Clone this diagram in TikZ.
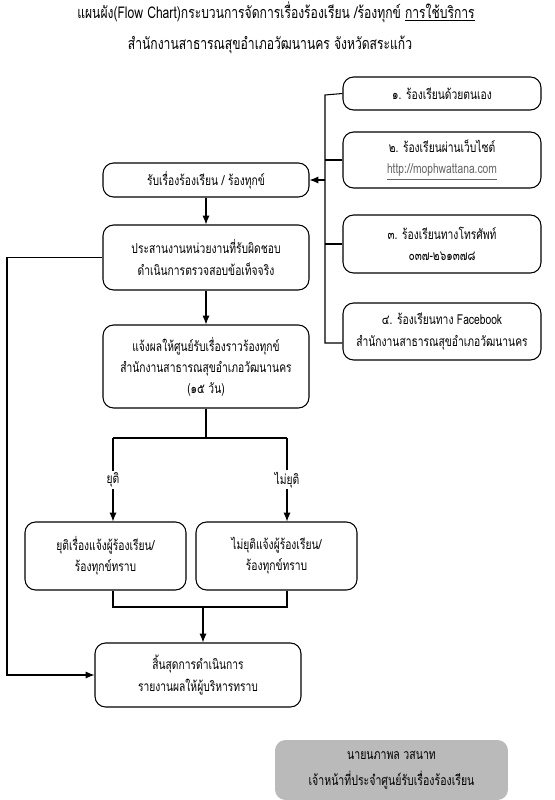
\documentclass[tikz,border=0pt]{standalone}
\usepackage{fontspec}
\setmainfont[Script=Thai,FakeStretch=0.75]{Loma}
\usetikzlibrary{arrows.meta}

\begin{document}
\begin{tikzpicture}[x=0.02cm,y=-0.02cm,
    line width=.6pt,
    box/.style={draw, rounded corners=6pt, align=center, inner sep=2pt,
      font=\fontsize{7.8}{12}\selectfont},
    arr/.style={-{Latex[length=5pt,width=4pt]}},
    tag/.style={fill=white, inner sep=1pt, font=\fontsize{7.8}{10}\selectfont}]
  \useasboundingbox (0,0) rectangle (554,800);

  % Title
  \node[font=\fontsize{9.2}{12}\selectfont] (title) at (276,12)
    {แผนผัง(Flow Chart)กระบวนการจัดการเรื่องร้องเรียน /ร้องทุกข์ \underline{การใช้บริการ}};
  \node[font=\fontsize{9.2}{12}\selectfont] (office) at (270,45)
    {สำนักงานสาธารณสุขอำเภอวัฒนานคร จังหวัดสระแก้ว};

  % Channels (right column)
  \node[box, minimum width=3.96cm, minimum height=.66cm] (ch1) at (442,93.5)
    {๑. ร้องเรียนด้วยตนเอง};
  \node[box, minimum width=3.96cm, minimum height=1.12cm] (ch2) at (442,160)
    {๒. ร้องเรียนผ่านเว็บไซต์\\ {\color{black!60}\underline{http://mophwattana.com}}};
  \node[box, minimum width=3.96cm, minimum height=1.16cm] (ch3) at (442,244)
    {๓. ร้องเรียนทางโทรศัพท์\\ ๐๓๗-๒๖๑๓๗๘};
  \node[box, minimum width=3.96cm, minimum height=1.14cm] (ch4) at (442,331.5)
    {๔. ร้องเรียนทาง Facebook\\ สำนักงานสาธารณสุขอำเภอวัฒนานคร};

  % Main steps
  \node[box, minimum width=4.12cm, minimum height=.68cm] (recv) at (206,180)
    {รับเรื่องร้องเรียน / ร้องทุกข์};
  \node[box, minimum width=4.12cm, minimum height=1.3cm] (check) at (206,257.5)
    {ประสานงานหน่วยงานที่รับผิดชอบ\\ ดำเนินการตรวจสอบข้อเท็จจริง};
  \node[box, minimum width=4.12cm, minimum height=1.66cm] (notify) at (206,366.5)
    {แจ้งผลให้ศูนย์รับเรื่องราวร้องทุกข์\\ สำนักงานสาธารณสุขอำเภอวัฒนานคร\\ (๑๕ วัน)};
  \node[box, minimum width=3.22cm, minimum height=1.36cm] (done) at (105.5,556)
    {ยุติเรื่องแจ้งผู้ร้องเรียน/\\ ร้องทุกข์ทราบ};
  \node[box, minimum width=3.22cm, minimum height=1.36cm] (open) at (276.5,556)
    {ไม่ยุติแจ้งผู้ร้องเรียน/\\ ร้องทุกข์ทราบ};
  \node[box, minimum width=4.12cm, minimum height=1.28cm] (finish) at (198,675)
    {สิ้นสุดการดำเนินการ\\ รายงานผลให้ผู้บริหารทราบ};

  % Signature
  \node[fill=black!27, rounded corners=6pt, minimum width=4.66cm, minimum height=1.2cm,
    align=center, font=\fontsize{8}{15}\selectfont] (sign) at (391.5,770)
    {นายนภาพล วสนาท\\ เจ้าหน้าที่ประจำศูนย์รับเรื่องร้องเรียน};

  % Channel bus
  \coordinate (bustop) at (325,95);
  \coordinate (busend) at (325,343);
  \draw (ch1.west) -- (bustop) -- (busend) -- (busend -| ch4.west);
  \draw (ch2.west) -- (ch2.west -| bustop);
  \draw (ch3.west) -- (ch3.west -| bustop);
  \draw[arr] (recv.east -| bustop) -- (recv.east);

  \draw[arr] (recv) -- (check);
  \draw[arr] (check) -- (notify);

  % Split into two results
  \coordinate (split) at (206,438);
  \coordinate (splitl) at (113,438);
  \coordinate (splitr) at (287,438);
  \draw (notify.south) -- (split);
  \draw (splitl) -- (splitr);
  \draw[arr] (splitl) -- node[tag] {ยุติ} (splitl |- done.north);
  \draw[arr] (splitr) -- node[tag] {ไม่ยุติ} (splitr |- open.north);

  % Join
  \coordinate (joinl) at (113,607);
  \coordinate (joinr) at (287,607);
  \coordinate (joinm) at (203,607);
  \draw (joinl |- done.south) -- (joinl) -- (joinr) -- (joinr |- open.south);
  \draw[arr] (joinm) -- (joinm |- finish.north);

  % Loop on the left
  \coordinate (loop) at (7,257.5);
  \draw[arr] (check.west) -- (loop) -- (loop |- finish.west) -- (finish.west);
\end{tikzpicture}
\end{document}
